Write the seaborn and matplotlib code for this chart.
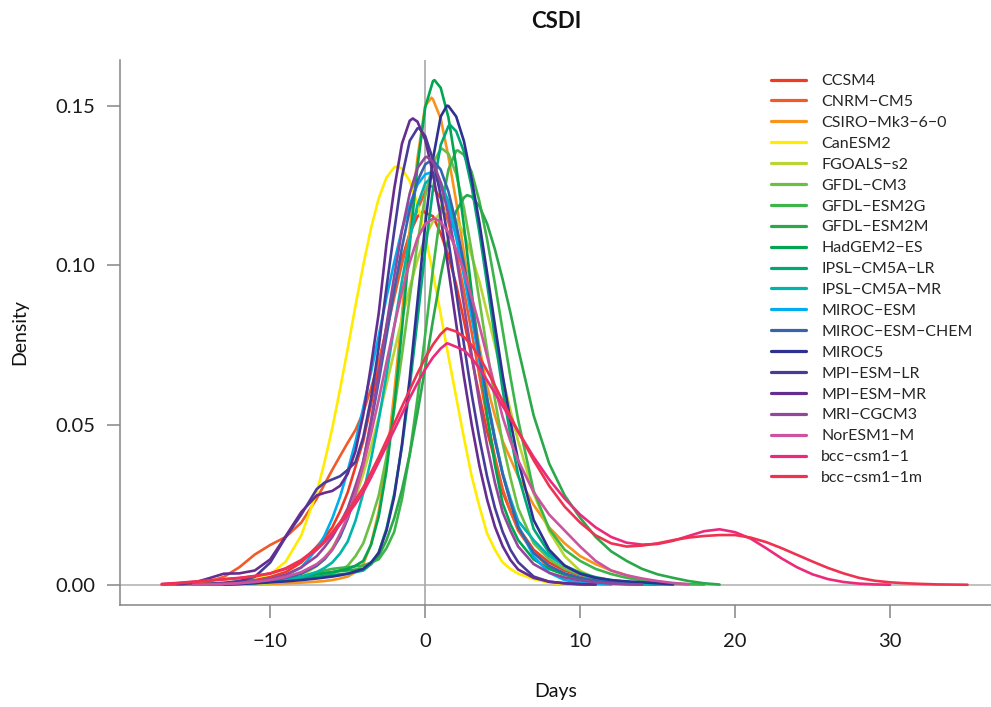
import numpy as np
import pandas as pd
import matplotlib
matplotlib.use("Agg")
import matplotlib.pyplot as plt
from matplotlib.lines import Line2D
import seaborn as sns

nan = float("nan")

# Day grids on which the density curves are tabulated
days = list(range(-17, 20))
days_long = list(range(-17, 36))
half_days = [-6.5, -5.5, -4.5, -3.5, -2.5, -1.5, -0.5, 0.5, 1.5, 2.5, 3.5, 4.5, 5.5]

# Kernel density of CSDI per model, in thousandths (density x 1000), on the whole-day grid
ccsm4 = [0.05, 0.1, 0.2, 0.4, 0.6, 1.0, 1.5, 2.5, 4, 7, 12, 18, 29, 45, 69, 92, 110, 116.5,
         110, 94, 71, 48, 29, 18, 11, 7, 4.5, 3, 2, 1.2, 0.7, 0.4, 0.2, nan, nan, nan, nan]
cnrm_cm5 = [0.1, 0.3, 0.6, 1.0, 2.5, 5.5, 9.5, 12.5, 15, 19.5, 27, 36, 44.5, 54, 70, 90, 110, 123,
            121, 104, 79, 52, 30, 17, 10, 5.5, 3.2, 1.8, 1.0, 0.5, 0.2, 0.1, nan, nan, nan, nan, nan]
csiro_mk3 = [nan, nan, nan, nan, 0.05, 0.1, 0.2, 0.3, 0.5, 0.7, 1.0, 1.5, 2.6, 6.5, 23, 60, 111, 150,
             146, 120, 88, 62, 45, 34, 25, 18, 13, 9, 6.5, 4.5, 3, 1.6, 0.8, 0.3, 0.1, nan, nan]
canesm2 = [nan, 0.2, 0.8, 1.5, 1.8, 2.0, 2.4, 3.3, 7.3, 15.5, 29, 49, 74, 100, 121, 130.7, 126.4, 109.4,
           84.7, 58.7, 34, 16, 7, 3.5, 1.8, 0.7, 0.2, nan, nan, nan, nan, nan, nan, nan, nan, nan, nan]
fgoals_s2 = [nan, nan, nan, nan, 0.1, 0.2, 0.3, 0.5, 1.2, 2.8, 5.9, 11.6, 21, 34.7, 52.5, 73, 93, 109,
             116.5, 114.5, 103, 85, 64.7, 45, 28.6, 16.8, 9, 4.4, 2.0, 0.8, 0.3, 0.1, nan, nan, nan, nan, nan]
gfdl_cm3 = [nan, nan, 0.1, 0.2, 0.3, 0.5, 0.8, 1.2, 1.5, 2, 2.5, 3.5, 6, 13, 28, 55, 90, 121.8,
            136.4, 128.6, 104.4, 73.3, 44.3, 24, 13, 8, 5, 3.2, 2, 1.2, 0.7, 0.4, 0.2, 0.1, nan, nan, nan]
gfdl_esm2g = [nan, nan, nan, nan, 0.1, 0.3, 0.6, 1, 1.5, 2.5, 4, 5, 5.5, 6, 8, 16.6, 40.9, 78.4,
              117, 135.9, 129.2, 108, 79.6, 51.6, 29.4, 17.5, 11, 7.5, 5, 3.4, 2.2, 1.4, 0.8, 0.4, 0.2, 0.1, nan]
gfdl_esm2m = [nan, nan, nan, 0.1, 0.3, 0.5, 0.8, 1.2, 1.8, 2.5, 3.5, 4, 4.5, 5, 9, 20.9, 40.8, 68,
              96.7, 117, 121.5, 113, 95.6, 74, 53, 38, 28, 21, 15, 10.5, 7.5, 5, 3.3, 2.2, 1.2, 0.5, 0.1]
hadgem2_es = [nan, nan, nan, 0.1, 0.2, 0.4, 0.7, 1.2, 1.8, 2.5, 3.3, 4, 5, 7.5, 21.4, 56, 106.5, 149.5,
              155.6, 131, 91.6, 53, 25.5, 14, 8, 5, 3.2, 2, 1.2, 0.7, 0.4, 0.2, 0.1, nan, nan, nan, nan]
ipsl_lr = [nan, nan, nan, nan, 0.1, 0.3, 0.6, 1, 1.5, 2, 2.5, 3, 3.5, 4.5, 10.2, 28.5, 62, 104.5,
           137.7, 142, 124.5, 94, 61, 34.4, 17.5, 10, 6, 3.8, 2.4, 1.5, 0.9, 0.5, 0.2, 0.1, nan, nan, nan]
ipsl_mr = [nan, nan, nan, nan, 0.1, 0.3, 0.6, 1, 1.6, 2.5, 4, 7, 13.6, 28.7, 51.6, 80.8, 108.4, 125.7,
           126, 111, 86, 58.6, 35, 20, 14, 9, 6, 3.5, 2, 1.1, 0.6, 0.3, 0.1, nan, nan, nan, nan]
miroc_esm = [nan, nan, 0.05, 0.15, 0.3, 0.6, 1.1, 1.8, 3, 5.4, 11.2, 20.8, 35.8, 55.5, 78, 101, 119, 128.5,
             125, 108.6, 83.6, 57, 34.7, 18.6, 8.9, 3.8, 1.5, 0.7, 0.3, 0.1, nan, nan, nan, nan, nan, nan, nan]
miroc_esm_chem = [nan, nan, nan, 0.1, 0.3, 0.5, 0.9, 1.4, 2.2, 3.5, 6, 11, 20.7, 38.7, 63.7, 92.2, 117.4, 131.6,
                  130, 113, 86.4, 58, 34.6, 18, 10, 6, 3.6, 2.2, 1.3, 0.7, 0.3, 0.1, nan, nan, nan, nan, nan]
miroc5 = [nan, nan, nan, nan, 0.1, 0.3, 0.5, 0.8, 1.1, 1.5, 2, 2.6, 3.5, 5, 10, 27.6, 64.6, 112.7,
          146.6, 146.6, 127, 97.5, 65.6, 38.9, 20.3, 11, 6, 3.5, 2.2, 1.5, 1.1, 0.8, 0.5, 0.2, nan, nan, nan]
mpi_esm_lr = [nan, nan, 0.1, 0.3, 0.6, 1.2, 2.5, 7, 15, 22, 30, 33, 36, 46.2, 74.4, 110.8, 139, 140.5,
              121.9, 91.6, 59.7, 33.8, 16.6, 7.1, 2.6, 1.0, 0.5, 0.2, 0.1, nan, nan, nan, nan, nan, nan, nan, nan]
mpi_esm_mr = [nan, 0.15, 0.6, 2.0, 3.5, 3.6, 4.5, 8, 15.3, 22.8, 28, 29.4, 34.8, 53.2, 85, 124, 145.3, 139.3,
              115, 81.7, 50.2, 26.6, 12.1, 4.8, 2.2, 1.0, 0.5, 0.2, 0.1, nan, nan, nan, nan, nan, nan, nan, nan]
mri_cgcm3 = [nan, nan, 0.05, 0.15, 0.3, 0.6, 1.1, 1.9, 3.2, 5.5, 9, 15, 24, 38.5, 66, 96.6, 122.5, 133.8,
             126, 102.6, 72, 43.5, 22.7, 12, 6.5, 3.8, 2.3, 1.4, 0.8, 0.4, 0.2, 0.1, nan, nan, nan, nan, nan]
noresm1_m = [nan, nan, 0.05, 0.15, 0.3, 0.5, 0.9, 1.5, 2.5, 4, 6.5, 11, 21.3, 37.2, 58, 81, 101, 113,
             113.6, 105, 90, 71.5, 52.5, 39, 29, 22, 17, 12, 7.5, 4.5, 3, 2, 1.2, 0.6, 0.2, nan, nan]
bcc_csm1_1 = [0.3, 0.6, 1.0, 1.4, 1.8, 2.2, 2.8, 3.6, 5, 7.5, 11, 16, 22, 29, 38.5, 48.5, 58.5, 67.5,
              74, 74.5, 71, 64, 56, 48, 40, 33, 27, 22, 18, 15, 13.2, 12.6, 12.8, 13.8, 15.3, 16.8, 17.4,
              16.5, 14.5, 11.5, 8.3, 5.5, 3.3, 1.8, 0.9, 0.4, 0.15, 0.05, nan, nan, nan, nan, nan]
bcc_csm1_1m = [0.2, 0.5, 0.9, 1.3, 1.7, 2.1, 2.7, 3.6, 5.2, 7.8, 11.5, 16.5, 23, 30.5, 40, 50.5, 61, 71,
               78.5, 79.3, 75, 67, 57.5, 48, 39, 31, 24.5, 19.5, 15.5, 13, 12, 12.3, 13, 14, 14.8, 15.3, 15.6,
               15.6, 14.8, 13.4, 11.5, 9.4, 7.3, 5.3, 3.6, 2.2, 1.3, 0.8, 0.5, 0.3, 0.15, 0.1, 0.05]

# Same curves at the half days around the main body, in thousandths
ccsm4_half = [14.8, 23, 37, 56.5, 80.7, 102, 115.3, 115.4, 103, 82.7, 59.2, 39, 23]
cnrm_cm5_half = [31.5, 40.3, 48.5, 61.5, 79.5, 100.5, 117.5, 124.5, 113.5, 92, 65.5, 40, 23]
csiro_mk3_half = [1.2, 2.0, 4.0, 12.7, 38.6, 84.6, 133.6, 152, 134, 104, 74.5, 53, 39.5]
canesm2_half = [38.4, 61.2, 87.4, 111.6, 127.5, 130.3, 119.3, 97.6, 71.5, 46, 24.5, 11, 5]
fgoals_s2_half = [8.4, 15.8, 27.3, 43.2, 62.7, 83.4, 101.7, 113.8, 116.8, 110, 94.9, 75.1, 54.6]
gfdl_cm3_half = [3.0, 4.5, 9, 20, 40, 72, 107, 132, 135, 118, 89, 58, 33.5]
gfdl_esm2g_half = [4.5, 5.3, 5.8, 7, 11.5, 26.9, 58.4, 98.8, 130, 134.6, 120, 94.3, 65.1]
gfdl_esm2m_half = [3.8, 4.3, 4.8, 6.5, 14, 29.8, 53.8, 82.8, 108.7, 121.2, 118.5, 105, 85.2]
hadgem2_es_half = [3.6, 4.5, 6, 12.5, 35.8, 80, 131, 157.7, 146.3, 112.4, 71.4, 37.5, 19]
ipsl_lr_half = [2.8, 3.3, 4, 6.5, 17.6, 43.3, 83, 123.8, 143.6, 135.6, 110.2, 77.3, 46.8]
ipsl_mr_half = [5.3, 9.8, 20.1, 39.2, 65.8, 95.2, 118.9, 127.9, 120, 99.2, 72.2, 46.1, 27]
miroc_esm_half = [15.4, 27.5, 44.8, 66.5, 90, 111.2, 125.3, 128.7, 118.4, 96.7, 70.2, 45.2, 25.9]
miroc_esm_chem_half = [8, 15, 28.8, 50.4, 77.8, 105.6, 126.4, 132.9, 123.1, 100.4, 72.1, 45.5, 26]
miroc5_half = [2.3, 3.0, 4.2, 7, 17, 44, 88.6, 133.3, 149.9, 138.9, 113.3, 81.3, 51.3]
mpi_esm_lr_half = [32, 34, 38.5, 58.3, 93.1, 127.7, 142.9, 133.1, 107.6, 75.3, 45.8, 24.1, 11]
mpi_esm_mr_half = [28.8, 31, 41.9, 68.6, 106.7, 138.1, 145, 128.8, 98.7, 65.2, 37.2, 18.2, 7.8]
mri_cgcm3_half = [11.8, 19.2, 31, 51.4, 81.3, 111, 130.5, 132.4, 115.9, 87.5, 57, 32, 17]
noresm1_m_half = [8.5, 16, 28.6, 47.2, 69.6, 91.8, 108.5, 114.6, 110.4, 98.3, 81.1, 62, 45]
bcc_csm1_1_half = [13.3, 18.9, 25.4, 33.6, 43.5, 53.5, 63.2, 71.2, 75.5, 73.5, 67.8, 60, 52]
bcc_csm1_1m_half = [13.8, 19.6, 26.6, 35.1, 45.2, 55.8, 66.2, 75.2, 80.1, 77.6, 71.3, 62.4, 52.8]

models = ["CCSM4", "CNRM\u2212CM5", "CSIRO\u2212Mk3\u22126\u22120", "CanESM2", "FGOALS\u2212s2",
          "GFDL\u2212CM3", "GFDL\u2212ESM2G", "GFDL\u2212ESM2M", "HadGEM2\u2212ES", "IPSL\u2212CM5A\u2212LR",
          "IPSL\u2212CM5A\u2212MR", "MIROC\u2212ESM", "MIROC\u2212ESM\u2212CHEM", "MIROC5", "MPI\u2212ESM\u2212LR",
          "MPI\u2212ESM\u2212MR", "MRI\u2212CGCM3", "NorESM1\u2212M", "bcc\u2212csm1\u22121", "bcc\u2212csm1\u22121m"]
curves = [ccsm4, cnrm_cm5, csiro_mk3, canesm2, fgoals_s2, gfdl_cm3, gfdl_esm2g, gfdl_esm2m, hadgem2_es,
          ipsl_lr, ipsl_mr, miroc_esm, miroc_esm_chem, miroc5, mpi_esm_lr, mpi_esm_mr, mri_cgcm3,
          noresm1_m, bcc_csm1_1, bcc_csm1_1m]
curves_half = [ccsm4_half, cnrm_cm5_half, csiro_mk3_half, canesm2_half, fgoals_s2_half, gfdl_cm3_half,
               gfdl_esm2g_half, gfdl_esm2m_half, hadgem2_es_half, ipsl_lr_half, ipsl_mr_half,
               miroc_esm_half, miroc_esm_chem_half, miroc5_half, mpi_esm_lr_half, mpi_esm_mr_half,
               mri_cgcm3_half, noresm1_m_half, bcc_csm1_1_half, bcc_csm1_1m_half]

# Location and height of each curve's main mode
peak_day = [-0.1, 0.3, 0.4, -1.8, 1.3, 1.1, 2.1, 2.7, 0.6, 1.6,
            0.6, 0.3, 0.4, 1.4, -0.4, -0.8, 0.1, 0.6, 1.4, 1.4]
peak_density = [117, 125, 152.5, 131, 117, 136.5, 136, 122, 158, 144,
                128, 129, 133, 150, 143, 146, 134, 114.7, 75.6, 80.3]

colors = ["#EE3B24", "#F15A29", "#F7941D", "#FFEC00", "#B9D433", "#6CBE45", "#3DB54A",
          "#2BA84A", "#00A651", "#00A877", "#00B5AD", "#00AEEF", "#3A63AD", "#2E3192",
          "#483C99", "#662D91", "#93479B", "#CC539E", "#EC2A7C", "#EE3350"]

frames = []
for name, vals, halves, pday, pdens in zip(models, curves, curves_half, peak_day, peak_density):
    grid = days_long if len(vals) == len(days_long) else days
    parts = [
        pd.DataFrame({"Days": grid, "Density": np.asarray(vals, dtype=float) / 1000}),
        pd.DataFrame({"Days": half_days, "Density": np.asarray(halves, dtype=float) / 1000}),
        pd.DataFrame({"Days": [pday], "Density": [pdens / 1000]}),
    ]
    df = pd.concat(parts).dropna().sort_values("Days", kind="stable")
    df["model"] = name
    frames.append(df)
data = pd.concat(frames, ignore_index=True)

sns.set_theme(style="white")
plt.rcParams["font.family"] = ["Lato", "DejaVu Sans"]
plt.rcParams["xtick.bottom"] = True
plt.rcParams["ytick.left"] = True

fig = plt.figure(figsize=(9.91, 7.07), dpi=100)
ax = fig.add_axes([120 / 991, 102 / 707, 880 / 991, 545 / 707])

ax.axhline(0, color="#b5b5b5", lw=1.2, zorder=0)
ax.axvline(0, color="#a8a8a8", lw=1.2, zorder=0)

sns.lineplot(data=data, x="Days", y="Density", hue="model", hue_order=models,
             palette=dict(zip(models, colors)), estimator=None, sort=False,
             linewidth=1.9, legend=False, ax=ax)
for line in ax.lines:
    line.set_solid_joinstyle("round")

ax.set_xlim(-19.7, 37.1)
ax.set_ylim(-0.0063, 0.1643)
ax.set_xticks([-10, 0, 10, 20, 30])
ax.set_xticklabels(["\u221210", "0", "10", "20", "30"])
ax.set_yticks([0.0, 0.05, 0.10, 0.15])
ax.set_yticklabels(["0.00", "0.05", "0.10", "0.15"])
ax.set_xlabel("")
ax.set_ylabel("")

for side in ("top", "right"):
    ax.spines[side].set_visible(False)
for side in ("left", "bottom"):
    ax.spines[side].set_color("#858585")
    ax.spines[side].set_linewidth(1.1)

ax.tick_params(axis="both", which="major", direction="out", length=9.5, width=1.2,
               color="#8f8f8f", labelsize=14.5, labelcolor="#1a1a1a",
               left=True, bottom=True)
ax.tick_params(axis="x", pad=11)
ax.tick_params(axis="y", pad=8)

handles = [Line2D([], [], color=c, lw=2.3) for c in colors]
ax.legend(handles, models, loc="upper left", bbox_to_anchor=(771 / 991, 1 - 74 / 707),
          bbox_transform=fig.transFigure, frameon=False, fontsize=11.5,
          handlelength=2.2, handletextpad=0.95, labelspacing=0.42,
          borderaxespad=0, borderpad=0)

fig.text(556 / 991, 1 - 22 / 707, "CSDI", ha="center", va="center",
         fontsize=16, fontweight="bold", color="#111111")
fig.text(556 / 991, 1 - 692 / 707, "Days", ha="center", va="center",
         fontsize=14, color="#111111")
fig.text(20 / 991, 1 - 332 / 707, "Density", ha="center", va="center",
         rotation=90, fontsize=14, color="#111111")

fig.savefig("out.png", dpi=100)
